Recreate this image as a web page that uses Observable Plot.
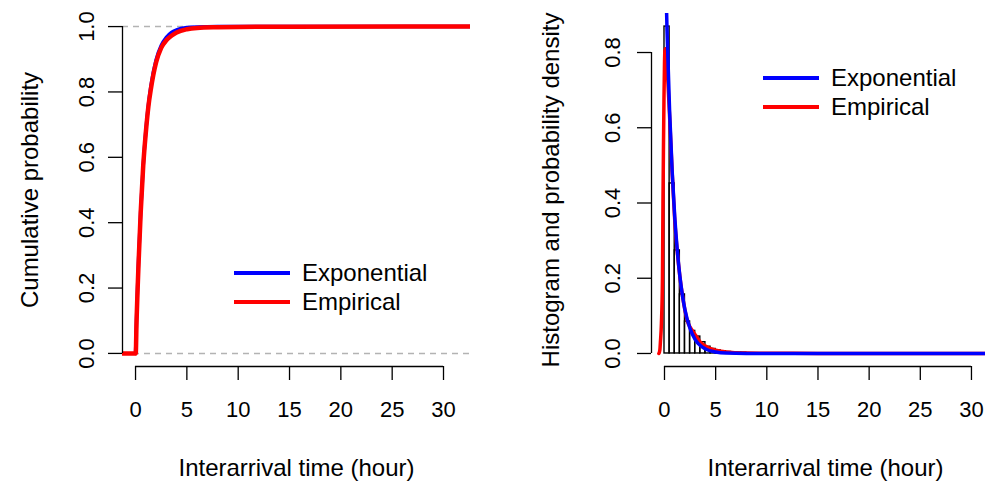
<!DOCTYPE html>
<html>
<head>
<meta charset="utf-8">
<script src="https://cdn.jsdelivr.net/npm/d3@7"></script>
<script src="https://cdn.jsdelivr.net/npm/@observablehq/plot@0.6"></script>
<style>
  html, body { margin: 0; padding: 0; background: #fff; overflow: hidden; }
  #wrap { position: relative; width: 985px; height: 486px; overflow: hidden; font-family: "Liberation Sans", Arial, Helvetica, sans-serif; }
  #wrap svg { position: absolute; top: 0; }
  .leg { position: absolute; display: flex; align-items: center; font-size: 24px; color: #000; white-space: nowrap; }
  .leg span.sw { display: inline-block; width: 56px; height: 3.5px; margin-right: 12px; }
</style>
</head>
<body>
<div id="wrap"></div>
<script>
// ---------- data ----------
const xTicks = [0, 5, 10, 15, 20, 25, 30];
const cdfTicks = [0, 0.2, 0.4, 0.6, 0.8, 1.0];
const densTicks = [0, 0.2, 0.4, 0.6, 0.8];
const xLabel = "Interarrival time (hour)";
const cdfLabel = "Cumulative probability";
const densLabel = "Histogram and probability density";
const seriesNames = ["Exponential", "Empirical"];
const seriesColors = ["#0000FF", "#FF0000"];

// fitted exponential CDF
const expCdfX = [0, 0.1, 0.2, 0.3, 0.5, 0.75, 1, 1.25, 1.5, 2, 2.5, 3, 3.5, 4, 5, 6, 8, 33];
const expCdfY = [0, 0.107, 0.204, 0.29, 0.434, 0.575, 0.68, 0.76, 0.819, 0.898, 0.942, 0.967, 0.982, 0.99, 0.997, 0.999, 1, 1];

// empirical CDF
const ecdfX = [-1.3, 0.02, 0.1, 0.2, 0.3, 0.5, 0.75, 1, 1.25, 1.5, 2, 2.5, 3, 3.5, 4, 5, 6, 8, 10, 15, 33];
const ecdfY = [0, 0, 0.1, 0.195, 0.28, 0.43, 0.575, 0.675, 0.755, 0.81, 0.89, 0.935, 0.958, 0.972, 0.982, 0.992, 0.996, 0.998, 0.999, 0.9995, 1];

// histogram (density per 0.5-hour bin)
const binWidth = 0.5;
const histDensity = [0.869, 0.452, 0.274, 0.157, 0.085, 0.060, 0.045, 0.030, 0.018, 0.012, 0.008, 0.006, 0.004, 0.003, 0.002, 0.002];

// empirical density (kernel estimate)
const kdeX = [-0.55, -0.45, -0.4, -0.3, -0.2, -0.15, -0.1, -0.05, 0, 0.05, 0.12, 0.2, 0.3, 0.5, 0.75, 1, 1.25, 1.5, 1.75, 2, 2.25, 2.5, 2.75, 3, 3.25, 3.5, 4, 4.5, 5, 5.5, 6, 7, 8, 10, 15, 20, 33];
const kdeY = [0, 0.01, 0.03, 0.08, 0.2, 0.4, 0.55, 0.68, 0.77, 0.81, 0.81, 0.79, 0.74, 0.63, 0.48, 0.355, 0.27, 0.205, 0.155, 0.115, 0.085, 0.07, 0.06, 0.05, 0.04, 0.03, 0.02, 0.013, 0.009, 0.006, 0.004, 0.002, 0.001, 0.0005, 0.0002, 0.0001, 0];

// fitted exponential density
const expPdfX = [0, 0.25, 0.5, 0.75, 1, 1.25, 1.5, 1.75, 2, 2.5, 3, 3.5, 4, 5, 6, 8, 33];
const expPdfY = [1.14, 0.857, 0.644, 0.484, 0.364, 0.274, 0.206, 0.155, 0.116, 0.066, 0.037, 0.021, 0.012, 0.004, 0.001, 0.0001, 0];

// ---------- drawing ----------
const TICKFONT = 22;
const LABFONT = 24;
const wrap = document.getElementById("wrap");

function panel({xDomain, yDomain, yTicks, yLabel, yLabelDx, tickLabelDx, marks, width, marginRight}) {
  const fmt = d3.format(".1f");
  return Plot.plot({
    width, height: 486,
    marginLeft: 122, marginRight, marginTop: 13, marginBottom: 120,
    style: {fontFamily: "Liberation Sans, Arial, Helvetica, sans-serif", fontSize: TICKFONT + "px", background: "transparent", overflow: "visible"},
    x: {domain: xDomain},
    y: {domain: yDomain},
    marks: [
      ...marks,
      // axis lines spanning tick range (R style)
      Plot.ruleY([yDomain[0]], {x1: xTicks[0], x2: xTicks[xTicks.length - 1], stroke: "#000", strokeWidth: 1.3}),
      Plot.ruleX([xDomain[0]], {y1: yTicks[0], y2: yTicks[yTicks.length - 1], stroke: "#000", strokeWidth: 1.3}),
      Plot.axisX({ticks: xTicks, tickSize: 14, tickPadding: 21, fontSize: TICKFONT, label: null, strokeWidth: 1.3}),
      Plot.axisY({ticks: yTicks, tickSize: 14, tickFormat: () => "", label: null, strokeWidth: 1.3}),
      Plot.text(yTicks, {y: d => d, text: d => fmt(d), frameAnchor: "left", dx: tickLabelDx, rotate: -90, fontSize: TICKFONT, textAnchor: "middle", lineAnchor: "middle"}),
      Plot.text([xLabel], {frameAnchor: "bottom", dy: 102, fontSize: LABFONT, textAnchor: "middle", lineAnchor: "middle"}),
      Plot.text([yLabel], {frameAnchor: "left", dx: yLabelDx, rotate: -90, fontSize: LABFONT, textAnchor: "middle", lineAnchor: "middle"})
    ]
  });
}

const left = panel({
  width: 492, marginRight: 22,
  xDomain: [-1.27, 32.63], yDomain: [-0.04, 1.04],
  yTicks: cdfTicks, yLabel: cdfLabel, yLabelDx: -92, tickLabelDx: -36,
  marks: [
    Plot.ruleY([0, 1], {stroke: "#b3b3b3", strokeDasharray: "6,5", strokeWidth: 1.4}),
    Plot.line(expCdfX, {x: d => d, y: (d, i) => expCdfY[i], stroke: seriesColors[0], strokeWidth: 3.5, curve: "monotone-x", clip: true}),
    Plot.line(ecdfX, {x: d => d, y: (d, i) => ecdfY[i], stroke: seriesColors[1], strokeWidth: 4.5, curve: "monotone-x", clip: true})
  ]
});
left.style.left = "0px";
wrap.appendChild(left);

const right = panel({
  width: 470, marginRight: 0,
  xDomain: [-1.27, 32.74], yDomain: [-0.0346, 0.9037],
  yTicks: densTicks, yLabel: densLabel, yLabelDx: -100, tickLabelDx: -39,
  marks: [
    Plot.rectY(histDensity, {x1: (d, i) => i * binWidth, x2: (d, i) => (i + 1) * binWidth, y1: 0, y2: d => d, fill: "none", stroke: "#000", strokeWidth: 1.4, inset: 0}),
    Plot.line(kdeX, {x: d => d, y: (d, i) => kdeY[i], stroke: seriesColors[1], strokeWidth: 3.5, curve: "monotone-x", clip: true}),
    Plot.line(expPdfX, {x: d => d, y: (d, i) => expPdfY[i], stroke: seriesColors[0], strokeWidth: 3.5, curve: "monotone-x", clip: true})
  ]
});
right.style.left = "529px";
wrap.appendChild(right);

// legends (R-style, no box)
function legend(x, y) {
  seriesNames.forEach((name, i) => {
    const d = document.createElement("div");
    d.className = "leg";
    d.style.left = x + "px";
    d.style.top = (y + i * 29 - 14) + "px";
    d.style.height = "28px";
    d.innerHTML = `<span class="sw" style="background:${seriesColors[i]}"></span>${name}`;
    wrap.appendChild(d);
  });
}
legend(234, 273);
legend(763, 78);
</script>
</body>
</html>
